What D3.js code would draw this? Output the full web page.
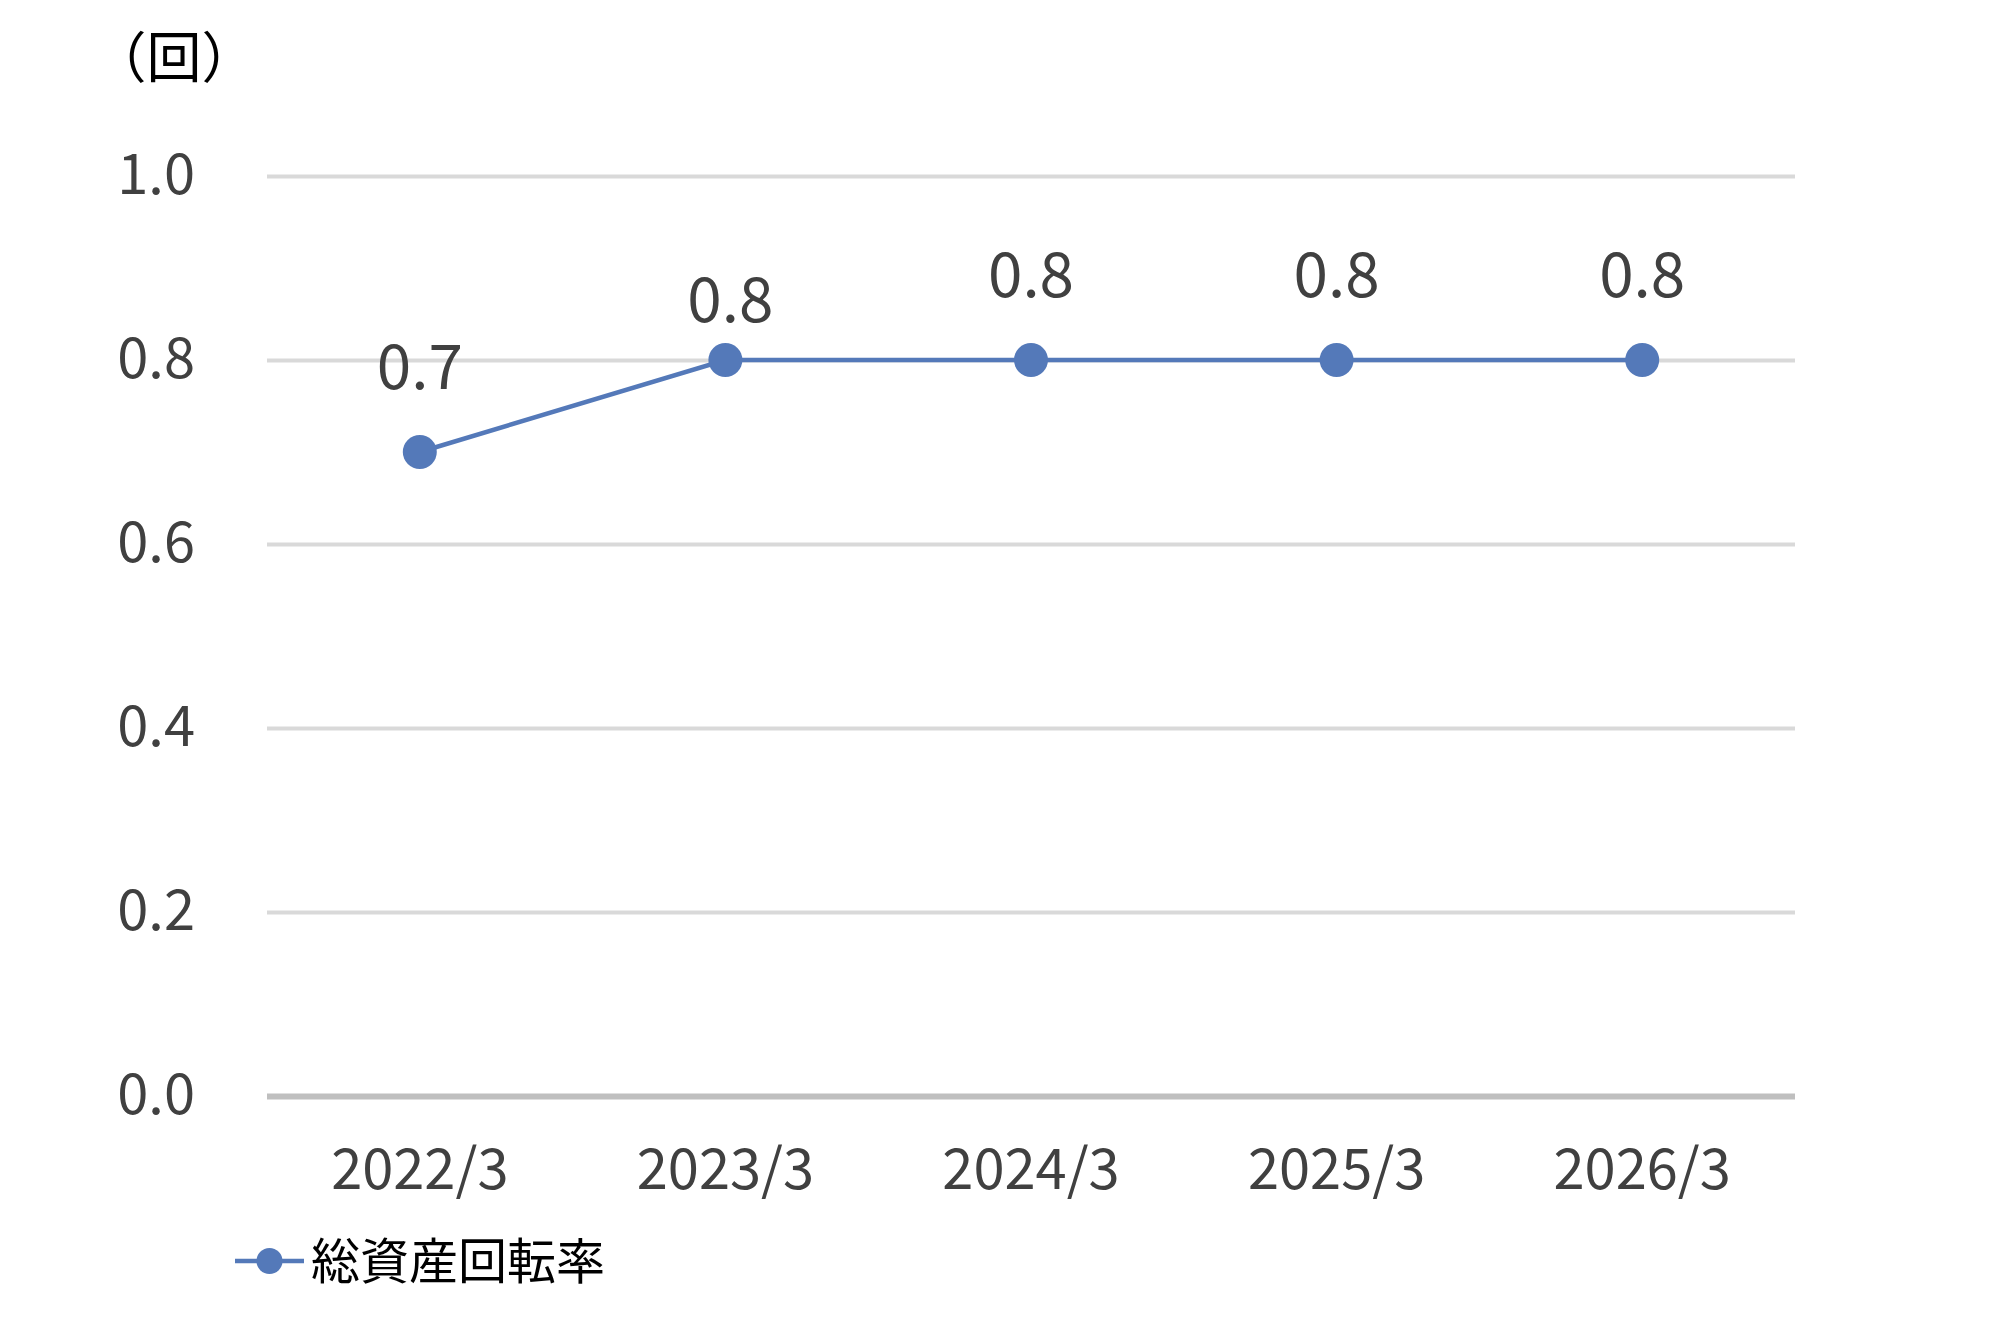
<!DOCTYPE html>
<html>
<head>
<meta charset="utf-8">
<script src="https://cdn.jsdelivr.net/npm/d3@7"></script>
<style>
    body { margin: 0; background: #fff; }
    text { font-family: "Noto Sans CJK JP", "Noto Sans", sans-serif; }
</style>
</head>
<body>
<div id="chart"></div>
<script>
const categories = ['2022/3', '2023/3', '2024/3', '2025/3', '2026/3'];
const turnover = [0.7, 0.8, 0.8, 0.8, 0.8];
const yTicks = [0, 0.2, 0.4, 0.6, 0.8, 1.0];
const seriesName = '総資産回転率';
const unitLabel = '（回）';

function drawChart() {
    const width = 2000;
    const height = 1331;
    const margin = { top: 176, right: 205, bottom: 235, left: 267 };
    const lineColor = '#5479b9';
    const textColor = '#404040';

    const svg = d3.select('#chart').append('svg')
        .attr('width', width)
        .attr('height', height);

    const x = d3.scaleBand()
        .domain(categories)
        .range([margin.left, width - margin.right]);

    const y = d3.scaleLinear()
        .domain([0, 1])
        .range([height - margin.bottom, margin.top]);

    // gridlines
    const yAxis = d3.axisLeft(y)
        .tickValues(yTicks)
        .tickFormat(d3.format('.1f'))
        .tickSize(-(width - margin.left - margin.right))
        .tickPadding(72);
    const yAxisG = svg.append('g')
        .attr('transform', 'translate(' + margin.left + ', 0)')
        .call(yAxis);
    yAxisG.select('.domain').remove();
    yAxisG.selectAll('line')
        .attr('stroke', d => d === 0 ? '#bfbfbf' : '#d9d9d9')
        .attr('stroke-width', d => d === 0 ? 6 : 4);
    yAxisG.selectAll('text')
        .attr('fill', textColor)
        .attr('font-size', 56)
        .attr('font-family', '"Noto Sans CJK JP", sans-serif');

    const xAxis = d3.axisBottom(x)
        .tickSize(0)
        .tickPadding(53);
    const xAxisG = svg.append('g')
        .attr('transform', 'translate(0, ' + (height - margin.bottom) + ')')
        .call(xAxis);
    xAxisG.select('.domain').remove();
    xAxisG.selectAll('text')
        .attr('fill', textColor)
        .attr('font-size', 56)
        .attr('font-family', '"Noto Sans CJK JP", sans-serif');

    // unit label
    svg.append('text')
        .attr('x', 174)
        .attr('y', 77)
        .attr('text-anchor', 'middle')
        .attr('fill', '#000')
        .attr('font-size', 55)
        .text(unitLabel);

    const points = categories.map((c, i) => ({ cat: c, value: turnover[i] }));
    const cx = d => x(d.cat) + x.bandwidth() / 2;

    const line = d3.line()
        .x(cx)
        .y(d => y(d.value));

    svg.append('path')
        .datum(points)
        .attr('fill', 'none')
        .attr('stroke', lineColor)
        .attr('stroke-width', 4.5)
        .attr('d', line);

    svg.selectAll('circle.pt')
        .data(points)
        .enter()
        .append('circle')
        .attr('class', 'pt')
        .attr('cx', cx)
        .attr('cy', d => y(d.value))
        .attr('r', 17)
        .attr('fill', lineColor);

    // data labels (2nd one sits closer, like Excel placed it)
    svg.selectAll('text.lbl')
        .data(points)
        .enter()
        .append('text')
        .attr('class', 'lbl')
        .attr('x', (d, i) => cx(d) + (i === 1 ? 5 : 0))
        .attr('y', (d, i) => y(d.value) - (i === 1 ? 38 : 63))
        .attr('text-anchor', 'middle')
        .attr('fill', textColor)
        .attr('font-size', 62)
        .text(d => d3.format('.1f')(d.value));

    // legend
    const legend = svg.append('g')
        .attr('transform', 'translate(235, 1261)');
    legend.append('line')
        .attr('x1', 0)
        .attr('x2', 69)
        .attr('stroke', lineColor)
        .attr('stroke-width', 4.5);
    legend.append('circle')
        .attr('cx', 34.5)
        .attr('r', 13)
        .attr('fill', lineColor);
    legend.append('text')
        .attr('x', 76)
        .attr('y', 18)
        .attr('fill', '#000')
        .attr('font-size', 49)
        .text(seriesName);
}

drawChart();
</script>
</body>
</html>
